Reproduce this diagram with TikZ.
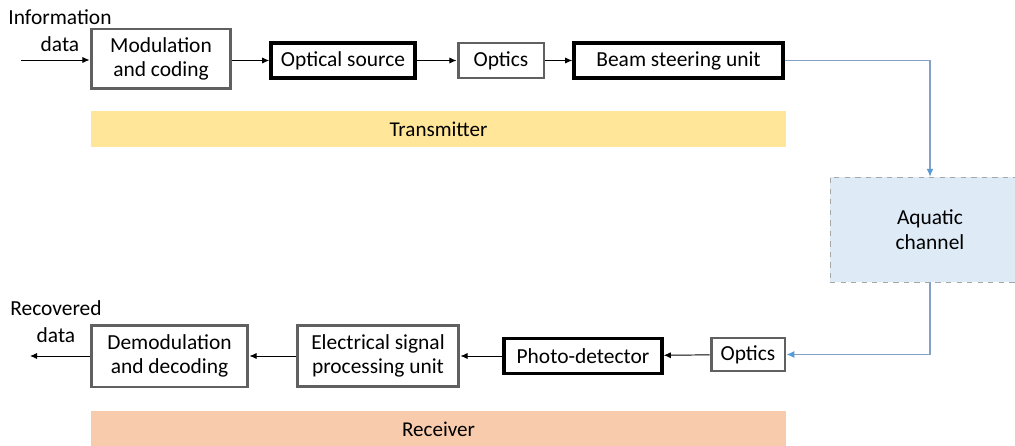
\documentclass[tikz,border=0pt]{standalone}
\usepackage{fontspec}
\setmainfont{Carlito}
\usepackage{xcolor}
\usetikzlibrary{positioning, arrows.meta}
\definecolor{boxgrey}{RGB}{96, 96, 96}
\definecolor{linkblue}{RGB}{91, 155, 213}
\definecolor{linkline}{RGB}{132, 160, 196}
\definecolor{txfill}{RGB}{255, 230, 153}
\definecolor{rxfill}{RGB}{248, 203, 173}
\definecolor{chanfill}{RGB}{222, 235, 247}

\begin{document}
\begin{tikzpicture}[
    x=0.02cm, y=-0.02cm,
    blk/.style={draw=boxgrey, line width=1.7pt, fill=white, align=center, inner sep=2pt, font=\fontsize{12.2}{14}\selectfont},
    blkdark/.style={blk, draw=black, line width=2pt},
    bar/.style={minimum width=13.9cm, minimum height=0.72cm, font=\fontsize{12}{14}\selectfont},
    lbl/.style={align=center, font=\fontsize{12.2}{15.5}\selectfont},
    arrow/.style={-{Latex[length=4pt, width=3.5pt]}, line width=0.55pt},
    bluearrow/.style={-{Latex[length=4.5pt, width=4pt, color=linkblue]}, draw=linkline, line width=0.6pt}
]
    \clip (0,0) rectangle (1015,446);
    % transmitter chain
    \node[blk, minimum width=2.8cm, minimum height=1.2cm] (mod) at (161,59) {Modulation\\and coding};
    \node[blkdark, minimum width=2.88cm, minimum height=0.7cm] (src) at (343,60.5) {Optical source};
    \node[blk, minimum width=1.72cm, minimum height=0.7cm] (optt) at (501,60.5) {Optics};
    \node[blkdark, minimum width=4.18cm, minimum height=0.7cm] (beam) at (678.5,60.5) {Beam steering unit};
    \node[bar, fill=txfill] (tx) at (438.5,129) {Transmitter};

    % channel
    \node[draw=gray!70, dashed, line width=0.4pt, fill=chanfill, minimum width=4cm, minimum height=2.1cm, align=center, font=\fontsize{12.2}{14}\selectfont] (chan) at (930,229.5) {Aquatic\\channel};

    % receiver chain
    \node[blk, minimum width=1.48cm, minimum height=0.66cm] (optr) at (748,354.5) {Optics};
    \node[blkdark, minimum width=3.16cm, minimum height=0.7cm] (pd) at (583,356) {Photo-detector};
    \node[blk, minimum width=3.24cm, minimum height=1.22cm] (esp) at (378,356) {Electrical signal\\processing unit};
    \node[blk, minimum width=3.14cm, minimum height=1.24cm] (demod) at (169.5,356) {Demodulation\\and decoding};
    \node[bar, fill=rxfill] (rx) at (438.5,429) {Receiver};

    % data in and out
    \node[lbl] (info) at (60,31) {Information\\data};
    \node[lbl] (rec) at (56,322) {Recovered\\data};
    \coordinate (in) at (21,60);
    \coordinate (out) at (30,356);

    \draw[arrow] (in) -- (in -| mod.west);
    \draw[arrow] (mod.east |- src) -- (src);
    \draw[arrow] (src) -- (optt);
    \draw[arrow] (optt) -- (beam);
    \draw[bluearrow] (beam.east) -| (chan.north);
    \draw[bluearrow] (chan.south) |- (optr.east);
    \draw[arrow] (optr) -- (pd);
    \draw[arrow] (pd) -- (esp);
    \draw[arrow] (esp) -- (demod);
    \draw[arrow] (demod) -- (out);
\end{tikzpicture}
\end{document}
